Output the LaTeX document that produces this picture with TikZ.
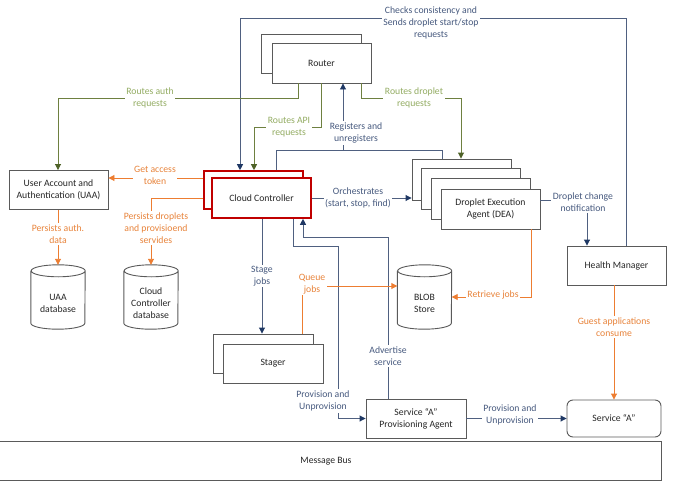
\documentclass[tikz,border=0pt]{standalone}
\usepackage{fontspec}
\setmainfont{Carlito}
\usetikzlibrary{arrows.meta}
\definecolor{navyline}{HTML}{4F6080}
\definecolor{navyhead}{HTML}{1F3864}
\definecolor{navytext}{HTML}{46597E}
\definecolor{greenline}{HTML}{6E8040}
\definecolor{greenhead}{HTML}{4F6228}
\definecolor{greentext}{HTML}{93AC62}
\definecolor{orangeline}{HTML}{ED7D31}
\definecolor{orangetext}{HTML}{E8833A}
\definecolor{boxgray}{HTML}{5A5A5A}
\definecolor{ccred}{HTML}{C00000}
\definecolor{boxtext}{HTML}{262626}
\tikzset{
  box/.style={draw=boxgray, line width=0.9pt, fill=white, inner sep=0pt, align=center, text=boxtext},
  redbox/.style={draw=ccred, line width=1.6pt, fill=white, inner sep=0pt, align=center, text=boxtext},
  dbnode/.style={inner sep=0pt, minimum width=54pt, minimum height=64pt, align=center, text=boxtext},
  lbl/.style={fill=white, align=center, inner sep=1.5pt},
  navyarr/.style={draw=navyline, line width=0.9pt, -{Triangle[length=6pt,width=6pt,color=navyhead]}},
  navyln/.style={draw=navyline, line width=0.9pt},
  greenarr/.style={draw=greenline, line width=0.9pt, -{Triangle[length=6pt,width=6pt,color=greenhead]}},
  orangearr/.style={draw=orangeline, line width=0.9pt, -{Triangle[length=6pt,width=6pt,color=orangeline]}},
  orangeln/.style={draw=orangeline, line width=0.9pt},
  navylbl/.style={lbl, text=navytext},
  greenlbl/.style={lbl, text=greentext},
  orangelbl/.style={lbl, text=orangetext}
}
\newcommand{\cylshape}[1]{%
  \draw[draw=boxgray, line width=0.9pt, fill=white]
    ([yshift=-6pt]#1.north west) -- ([yshift=6pt]#1.south west)
    arc[start angle=180, end angle=360, x radius=27pt, y radius=6pt]
    -- ([yshift=-6pt]#1.north east)
    arc[start angle=0, end angle=360, x radius=27pt, y radius=6pt];}
\begin{document}
\begin{tikzpicture}[x=1pt, y=-1pt, font=\fontsize{9.7}{12}\selectfont]
\useasboundingbox (0,0) rectangle (673,482);

% ---------- boxes ----------
\node[box, minimum width=100pt, minimum height=39pt] (routerB) at (311,53.5) {};
\node[box, minimum width=99pt, minimum height=40pt] (router) at (321.5,63) {Router};

\node[redbox, minimum width=99pt, minimum height=38pt] (ccB) at (253.5,190) {};
\node[redbox, minimum width=99pt, minimum height=40pt] (cc) at (261.5,198) {Cloud Controller};

\node[box, minimum width=99pt, minimum height=39pt] (uaa) at (58.5,190) {User Account and\\Authentication (UAA)};

\node[box, minimum width=99pt, minimum height=41pt] (dea1) at (461.5,179.5) {};
\node[box, minimum width=99pt, minimum height=41pt] (dea2) at (471,189) {};
\node[box, minimum width=99pt, minimum height=41pt] (dea3) at (480.5,199) {};
\node[box, minimum width=99pt, minimum height=40pt] (dea) at (490.5,209) {Droplet Execution\\Agent (DEA)};

\node[box, minimum width=99pt, minimum height=39pt] (hm) at (616.5,265.5) {Health Manager};

\node[box, minimum width=100pt, minimum height=39pt] (stagerB) at (263,353.5) {};
\node[box, minimum width=100pt, minimum height=39pt] (stager) at (273,363.5) {Stager};

\node[box, minimum width=100pt, minimum height=39pt] (sa) at (416,418.5) {Service ``A''\\Provisioning Agent};
\node[box, rounded corners=6pt, minimum width=94pt, minimum height=37pt] (svc) at (614,418.5) {Service ``A''};

\node[box, minimum width=665pt, minimum height=39pt] (bus) at (328.5,460.5) {};
\node[text=boxtext] at (326,461) {Message Bus};

% ---------- databases ----------
\node[dbnode] (uaadb) at (58,297) {};
\cylshape{uaadb}
\node[text=boxtext, align=center] at (58,303) {UAA\\database};
\node[dbnode] (ccdb) at (151,297) {};
\cylshape{ccdb}
\node[text=boxtext, align=center] at (151,303) {Cloud\\Controller\\database};
\node[dbnode] (blob) at (424.5,297) {};
\cylshape{blob}
\node[text=boxtext, align=center] at (424.5,303) {BLOB\\Store};

% ---------- navy connectors ----------
\draw[navyarr] (hm.north -| 626,0) |- (240,18) -- (ccB.north -| 240,0);
\node[navylbl] at (431,23) {Checks consistency and\\Sends droplet start/stop\\requests};

\coordinate (regJ) at (343,150);
\draw[navyln] (ccB.north -| 276,0) -- (276,150) -| (dea1.north -| 442,0);
\draw[navyarr] (regJ) -- (router.south -| regJ);
\node[navylbl] at (356,133) {Registers and\\unregisters};

\draw[navyarr] (cc.east) -- (dea1.west |- cc.east);
\node[navylbl] at (358,198) {Orchestrates\\(start, stop, find)};

\draw[navyarr] (dea.east |- 0,200) -| (hm.north -| 587,0);
\node[navylbl] at (583,202.5) {Droplet change\\notification};

\draw[navyarr] (cc.south -| 262,0) -- (stagerB.north -| 262,0);
\node[navylbl] at (262,276) {Stage\\jobs};

\draw[navyarr] (cc.south -| 293,0) |- (338,246) |- (sa.west);
\node[navylbl] at (323,401) {Provision and\\Unprovision};

\draw[navyarr] (sa.north -| 388,0) |- (303,237) -- (cc.south -| 303,0);
\node[navylbl] at (388,356) {Advertise\\service};

\draw[navyarr] (sa.east) -- (svc.west);
\node[navylbl] at (510,415) {Provision and\\Unprovision};

% ---------- green connectors ----------
\draw[greenarr] (router.south -| 298,0) |- (58,98) -- (uaa.north -| 58,0);
\node[greenlbl] at (150,98) {Routes auth\\requests};

\draw[greenarr] (router.south -| 321,0) |- (254,127) -- (ccB.north -| 254,0);
\node[greenlbl] at (289,127) {Routes API\\requests};

\draw[greenarr] (router.south -| 361,0) |- (461,98) -- (dea1.north -| 461,0);
\node[greenlbl] at (414,98) {Routes droplet\\requests};

% ---------- orange connectors ----------
\draw[orangearr] (ccB.west |- 0,178) -- (uaa.east |- 0,178);
\node[orangelbl] at (155,175) {Get access\\token};

\draw[orangearr] (ccB.west |- 0,198) -| (ccdb.north);
\node[orangelbl] at (156,228) {Persists droplets\\and provisioend\\servides};

\draw[orangearr] (uaa.south -| uaadb.north) -- (uaadb.north);
\node[orangelbl] at (58,234) {Persists auth.\\data};

\draw[orangearr] (dea.south -| 531,0) |- (blob.east);
\node[orangelbl] at (493,295) {Retrieve jobs};

\draw[orangearr] (stagerB.north -| 302,0) |- (blob.west |- 0,286);
\node[orangelbl] at (312,284) {Queue\\jobs};

\draw[orangearr] (hm.south -| svc.north) -- (svc.north);
\node[orangelbl] at (614,327) {Guest applications\\consume};
\end{tikzpicture}
\end{document}
